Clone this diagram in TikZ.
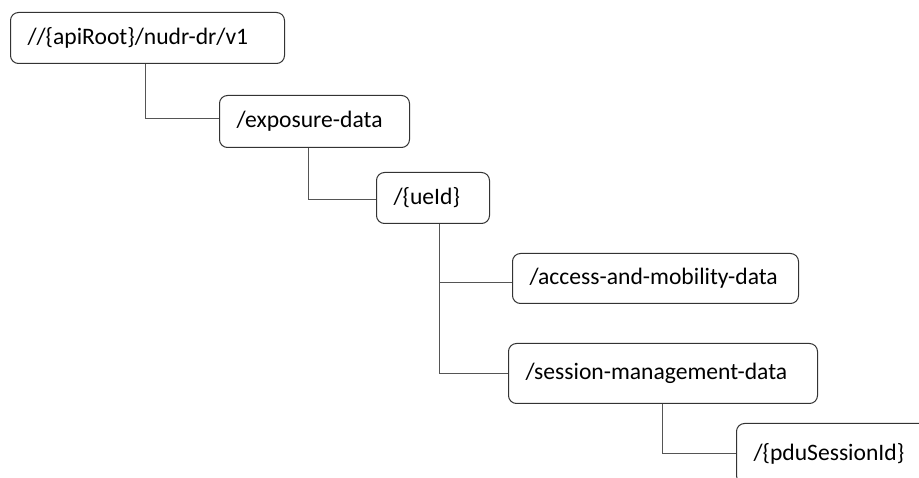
\documentclass[tikz,border=0pt]{standalone}
\usepackage{fontspec}
\setmainfont{Carlito}
\definecolor{boxline}{HTML}{333333}
\definecolor{conline}{HTML}{555555}
\begin{document}
\begin{tikzpicture}[x=1pt,y=-1pt,
  box/.style={draw=boxline, line width=1pt, rounded corners=8pt, anchor=north west,
    inner xsep=17pt, inner ysep=0pt, align=left, font=\fontsize{23.6}{26}\selectfont},
  con/.style={draw=conline, line width=1pt}]
\useasboundingbox (0,0) rectangle (919,478);
\clip (0,0) rectangle (919,478);
\node[box, text width=240pt, minimum height=51pt] (b1) at (10,12) {//\{apiRoot\}/nudr-dr/v1};
\node[box, text width=156pt, minimum height=52pt] (b2) at (219,95) {/exposure-data};
\node[box, text width=79pt, minimum height=51pt] (b3) at (376,172) {/\{ueId\}};
\node[box, text width=252pt, minimum height=50pt] (b4) at (512,253) {/access-and-mobility-data};
\node[box, text width=275pt, minimum height=60pt] (b5) at (508,343) {/session-management-data};
\node[box, text width=196pt, minimum height=60pt] (b6) at (736,423) {/\{pduSessionId\}};
\draw[con] (b1.south west) ++(135,0) |- ([yshift=3pt]b2.west);
\draw[con] (b2.south west) ++(89,0) |- ([yshift=-1.5pt]b3.west);
\draw[con] (b3.south west) ++(63,0) coordinate (t3) |- (b5.west);
\draw[con] (t3 |- b4.west) ++(0,4) coordinate (j4) -- (j4 -| b4.west);
\draw[con] (b5.south west) ++(154,0) |- (b6.west);
\end{tikzpicture}
\end{document}
